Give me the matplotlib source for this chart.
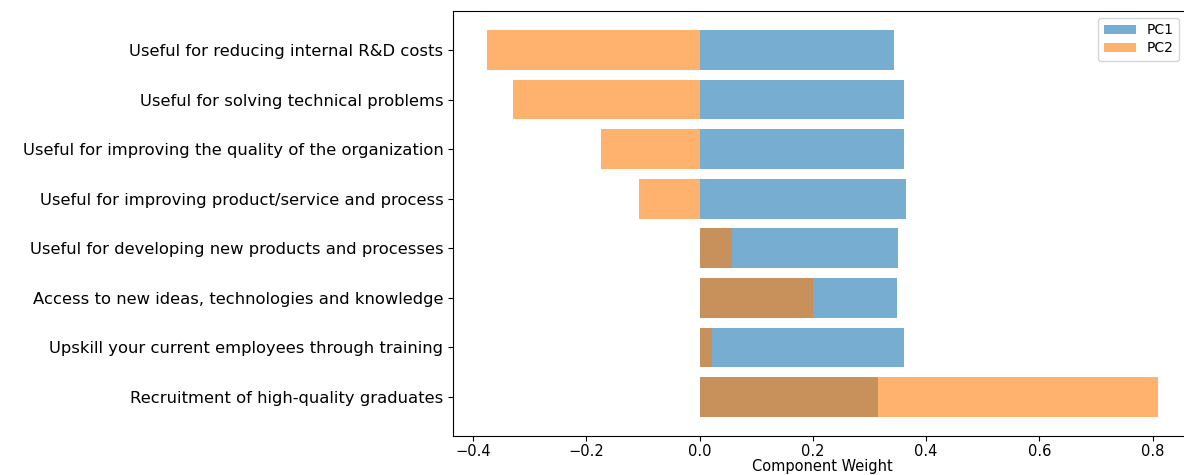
import numpy as np
import matplotlib
matplotlib.use('Agg')
import matplotlib.pyplot as plt

features = ['Useful for reducing internal R&D costs',
            'Useful for solving technical problems',
            'Useful for improving the quality of the organization',
            'Useful for improving product/service and process',
            'Useful for developing new products and processes',
            'Access to new ideas, technologies and knowledge',
            'Upskill your current employees through training',
            'Recruitment of high-quality graduates']
pc1 = [0.343, 0.361, 0.361, 0.365, 0.350, 0.348, 0.361, 0.316]
pc2 = [-0.376, -0.329, -0.174, -0.106, 0.057, 0.200, 0.022, 0.810]

fig = plt.figure(figsize=(11.84, 4.75), dpi=100)
ax = fig.add_axes([0.3826, 0.082, 0.624, 0.895])

y = np.arange(len(features))
ax.barh(y, pc1, alpha=0.6, label='PC1')
ax.barh(y, pc2, alpha=0.6, label='PC2')
ax.set_yticks(y)
ax.set_yticklabels(features, fontsize=11.8)
ax.invert_yaxis()
ax.tick_params(axis='x', labelsize=10.5, pad=2)
ax.set_xlabel('Component Weight', fontsize=10.5, labelpad=0)
ax.legend(loc='upper right', bbox_to_anchor=(0.983, 0.984), borderaxespad=0,
          fontsize=10, handlelength=2.3, labelspacing=0.3)

fig.savefig('out.png', dpi=100)
